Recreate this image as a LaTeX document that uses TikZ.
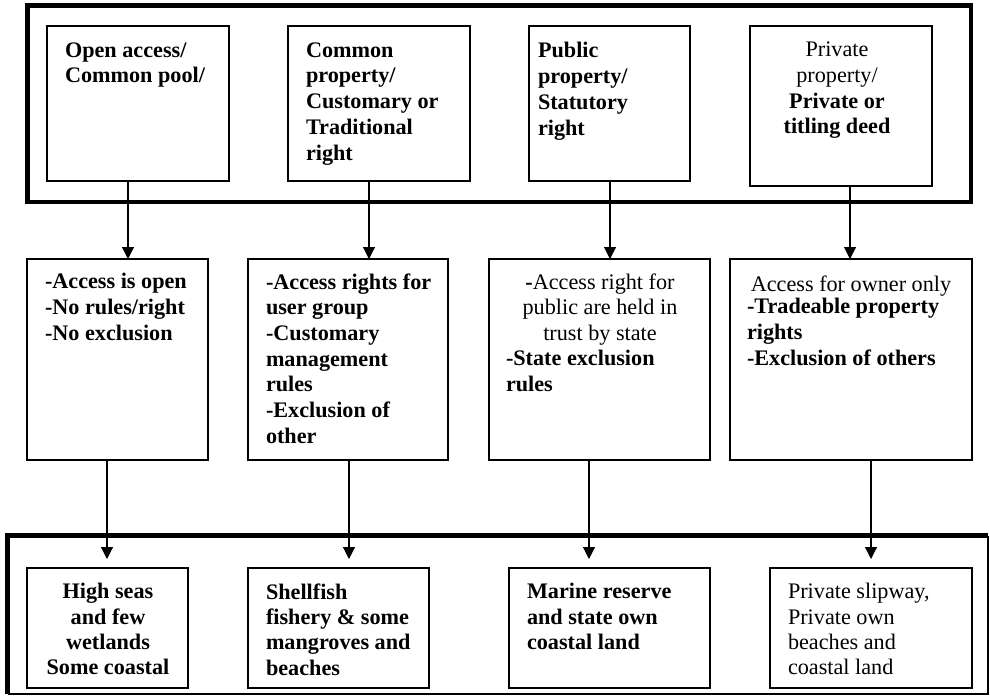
\documentclass[tikz,border=0pt]{standalone}
\usepackage{fontspec}
\setmainfont{Liberation Serif}
\usetikzlibrary{arrows.meta}
\begin{document}
\begin{tikzpicture}[x=1pt,y=-1pt,
  box/.style={draw=black, line width=1.2pt, inner sep=0pt, outer sep=0pt, anchor=north west},
  lt/.style={inner sep=0pt, outer sep=0pt, align=left, anchor=north west, font=\fontsize{22.2}{25.7}\selectfont, execute at begin node={\strut}},
  ct/.style={lt, align=center, anchor=north},
  arr/.style={line width=1.1pt, -{Triangle[width=12pt,length=12pt]}},
  heavy/.style={line width=4.5pt},
  light/.style={line width=1.8pt}]
\useasboundingbox (0,0) rectangle (990,696);
% frames
\draw[heavy] (27.5,5.5) rectangle (971,202);
\draw[heavy] (988,535.5) -- (7.5,535.5) -- (7.5,694);
\draw[light] (7.5,694) -- (988,694) -- (988,535.5);
% top boxes
\node[box, minimum width=182pt, minimum height=155pt] (t1) at (47,26) {};
\node[box, minimum width=182pt, minimum height=155pt] (t2) at (288,26) {};
\node[box, minimum width=161pt, minimum height=155pt] (t3) at (529,26) {};
\node[box, minimum width=182pt, minimum height=160pt] (t4) at (750,26) {};
\node[lt, font=\fontsize{22.2}{25.7}\selectfont\bfseries] (t1txt) at (65,42.5) {Open access/\\Common pool/};
\node[lt, font=\fontsize{22.2}{25.7}\selectfont\bfseries] (t2txt) at (306,42.5) {Common\\property/\\Customary or\\Traditional\\right};
\node[lt, font=\fontsize{22.2}{25.7}\selectfont\bfseries] (t3txt) at (538,42.5) {Public\\property/\\Statutory\\right};
\node[ct] (t4txt) at (837,42) {Private\\property/\\\textbf{Private or}\\\textbf{titling deed}};
% middle boxes
\node[box, minimum width=181pt, minimum height=201pt] (m1) at (27,259) {};
\node[box, minimum width=200pt, minimum height=201pt] (m2) at (248,259) {};
\node[box, minimum width=221pt, minimum height=201pt] (m3) at (489,259) {};
\node[box, minimum width=242pt, minimum height=201pt] (m4) at (730,259) {};
\node[lt, font=\fontsize{22.2}{25.7}\selectfont\bfseries] (m1txt) at (45,273.5) {-Access is open\\-No rules/right\\-No exclusion};
\node[lt, font=\fontsize{22.2}{25.7}\selectfont\bfseries] (m2txt) at (266,273.5) {-Access rights for\\user group\\-Customary\\management\\rules\\-Exclusion of\\other};
\node[ct] (m3txta) at (600,273.5) {\textbf{-}Access right for\\public are held in\\trust by state};
\node[lt, font=\fontsize{22.2}{25.7}\selectfont\bfseries] (m3txtb) at (506,350.5) {-State exclusion\\rules};
\node[ct] (m4txta) at (851,273.5) {Access for owner only};
\node[lt, font=\fontsize{22.2}{25.7}\selectfont\bfseries] (m4txtb) at (747,298.5) {-Tradeable property\\rights\\-Exclusion of others};
% bottom boxes
\node[box, minimum width=161pt, minimum height=120pt] (b1) at (27,568) {};
\node[box, minimum width=181pt, minimum height=120pt] (b2) at (248,568) {};
\node[box, minimum width=201pt, minimum height=120pt] (b3) at (509,568) {};
\node[box, minimum width=202pt, minimum height=120pt] (b4) at (770,568) {};
\node[ct, font=\fontsize{22.2}{25.3}\selectfont\bfseries] (b1txt) at (108,583.5) {High seas\\and few\\wetlands\\Some coastal};
\node[lt, font=\fontsize{22.2}{25.3}\selectfont\bfseries] (b2txt) at (266,583.5) {Shellfish\\fishery \& some\\mangroves and\\beaches};
\node[lt, font=\fontsize{22.2}{25.3}\selectfont\bfseries] (b3txt) at (527,583.5) {Marine reserve\\and state own\\coastal land};
\node[lt, font=\fontsize{22.2}{25.3}\selectfont] (b4txt) at (788,583.5) {Private slipway,\\Private own\\beaches and\\coastal land};
% arrow columns
\coordinate (c1) at (128,0);
\coordinate (c2) at (369,0);
\coordinate (c3) at (610,0);
\coordinate (c4) at (850,0);
\coordinate (d1) at (107,0);
\coordinate (d2) at (349,0);
\coordinate (d3) at (589,0);
\coordinate (d4) at (871,0);
\draw[arr] (t1.south -| c1) -- (m1.north -| c1);
\draw[arr] (t2.south -| c2) -- (m2.north -| c2);
\draw[arr] (t3.south -| c3) -- (m3.north -| c3);
\draw[arr] (t4.south -| c4) -- (m4.north -| c4);
\draw[arr, shorten >=9pt] (m1.south -| d1) -- (b1.north -| d1);
\draw[arr, shorten >=9pt] (m2.south -| d2) -- (b2.north -| d2);
\draw[arr, shorten >=9pt] (m3.south -| d3) -- (b3.north -| d3);
\draw[arr, shorten >=9pt] (m4.south -| d4) -- (b4.north -| d4);
\end{tikzpicture}
\end{document}
